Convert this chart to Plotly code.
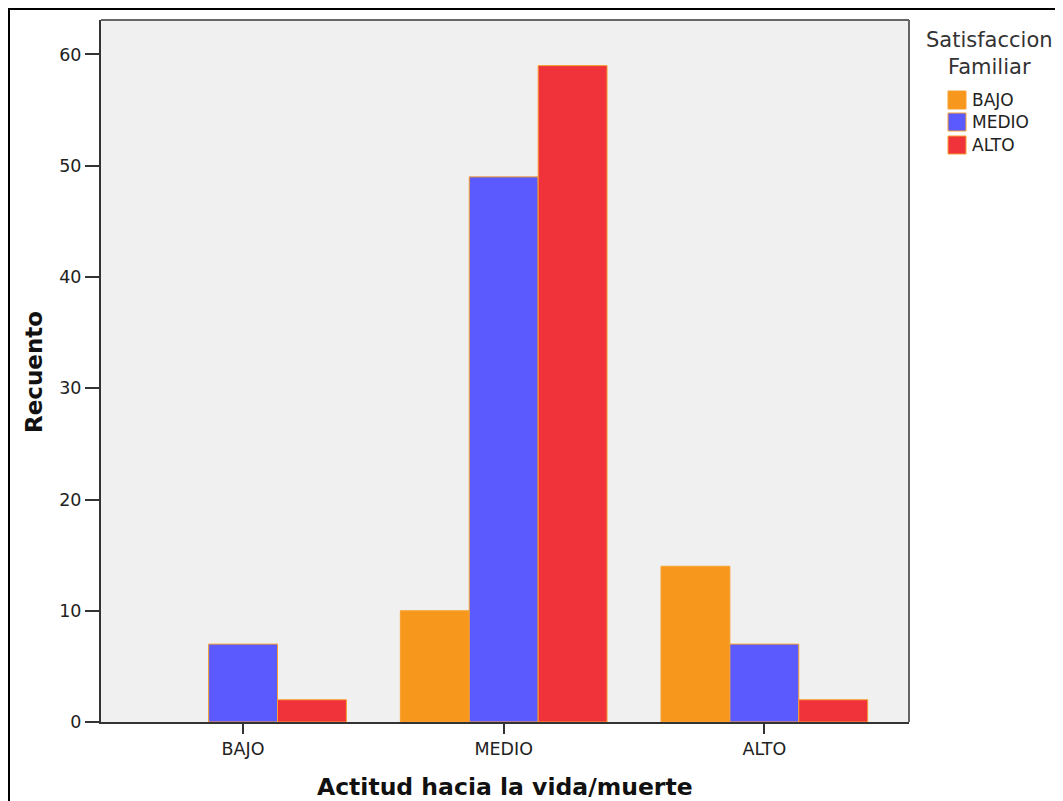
import plotly.graph_objects as go

categories = ["BAJO", "MEDIO", "ALTO"]
series_names = ["BAJO", "MEDIO", "ALTO"]
bajo_vals = [0, 10, 14]
medio_vals = [7, 49, 7]
alto_vals = [2, 59, 2]
colors = ["#F7981D", "#5A5AFF", "#F0323A"]
y_ticks = [0, 10, 20, 30, 40, 50, 60]
legend_title = "Satisfaccion<br>Familiar"
x_title = "Actitud hacia la vida/muerte"
y_title = "Recuento"

OFF = 8  # page body offset
W, H = 1063 - OFF, 801 - OFF
# plot area in reference pixels: x 101..909, y 20..722
L = 101 - OFF
T = 20 - OFF
pw = 909 - 101
ph = 722 - 20
R = W - L - pw
B = H - T - ph

def px_x(p):
    return (p - OFF - L) / pw

def px_y(p):
    return (T + ph - (p - OFF)) / ph

FONT = "DejaVu Sans, Verdana, sans-serif"

fig = go.Figure()
for name, vals, c in zip(series_names, [bajo_vals, medio_vals, alto_vals], colors):
    fig.add_trace(go.Bar(
        x=categories, y=vals, name=name,
        marker=dict(color=c, line=dict(color="#F7A030",
                                       width=[0 if v == 0 else 1 for v in vals])),
        showlegend=False,
    ))

fig.update_layout(
    width=W, height=H,
    margin=dict(l=L, r=R, t=T, b=B, autoexpand=False),
    paper_bgcolor="white", plot_bgcolor="#F0F0F0",
    barmode="group", bargap=0.207, bargroupgap=0,
    font=dict(family=FONT, color="#222222", size=17),
    xaxis=dict(
        range=[-0.545, 2.555], showgrid=False, zeroline=False,
        ticks="outside", ticklen=10, tickcolor="#333333", tickwidth=2,
        showline=True, linecolor="#333333", linewidth=2,
        tickfont=dict(family=FONT, size=17.5, color="#222222"),
    ),
    yaxis=dict(
        range=[0, 63.1], tickvals=y_ticks, showgrid=False, zeroline=False,
        ticks="outside", ticklen=14, tickcolor="#333333", tickwidth=2,
        showline=True, linecolor="#333333", linewidth=2,
        tickfont=dict(family=FONT, size=17.5, color="#222222"),
    ),
    showlegend=False,
)

# axis titles
fig.add_annotation(text="<b>" + x_title + "</b>", xref="paper", yref="paper",
                   x=px_x(505), y=px_y(787), xanchor="center", yanchor="middle",
                   showarrow=False, font=dict(family=FONT, size=23.5, color="#111111"))
fig.add_annotation(text="<b>" + y_title + "</b>", xref="paper", yref="paper",
                   x=px_x(34), y=px_y(372), xanchor="center", yanchor="middle",
                   textangle=-90, showarrow=False,
                   font=dict(family=FONT, size=23, color="#111111"))

# legend (manual)
fig.add_annotation(text=legend_title, xref="paper", yref="paper",
                   x=px_x(989), y=px_y(53), xanchor="center", yanchor="middle",
                   showarrow=False, align="center",
                   font=dict(family=FONT, size=21, color="#333333"))
item_y = [100, 122, 145]
for name, c, yy in zip(series_names, colors, item_y):
    fig.add_shape(type="rect", xref="paper", yref="paper",
                  x0=px_x(948), x1=px_x(966), y0=px_y(yy + 9), y1=px_y(yy - 9),
                  fillcolor=c, line=dict(color="#F7A030", width=1))
    fig.add_annotation(text=name, xref="paper", yref="paper",
                       x=px_x(970), y=px_y(yy), xanchor="left", yanchor="middle",
                       showarrow=False, font=dict(family=FONT, size=17, color="#222222"))

# plot frame (top and right edges of plot box)
fig.add_shape(type="line", xref="paper", yref="paper", x0=0, x1=1, y0=1, y1=1,
              line=dict(color="#666666", width=2))
fig.add_shape(type="line", xref="paper", yref="paper", x0=1, x1=1, y0=0, y1=1,
              line=dict(color="#666666", width=2))

# outer black frame (left and top edges visible)
fig.add_shape(type="line", xref="paper", yref="paper",
              x0=px_x(9), x1=px_x(9), y0=px_y(801), y1=px_y(9),
              line=dict(color="black", width=2))
fig.add_shape(type="line", xref="paper", yref="paper",
              x0=px_x(8), x1=px_x(1063), y0=px_y(9), y1=px_y(9),
              line=dict(color="black", width=2))

fig.write_html("out.html")
